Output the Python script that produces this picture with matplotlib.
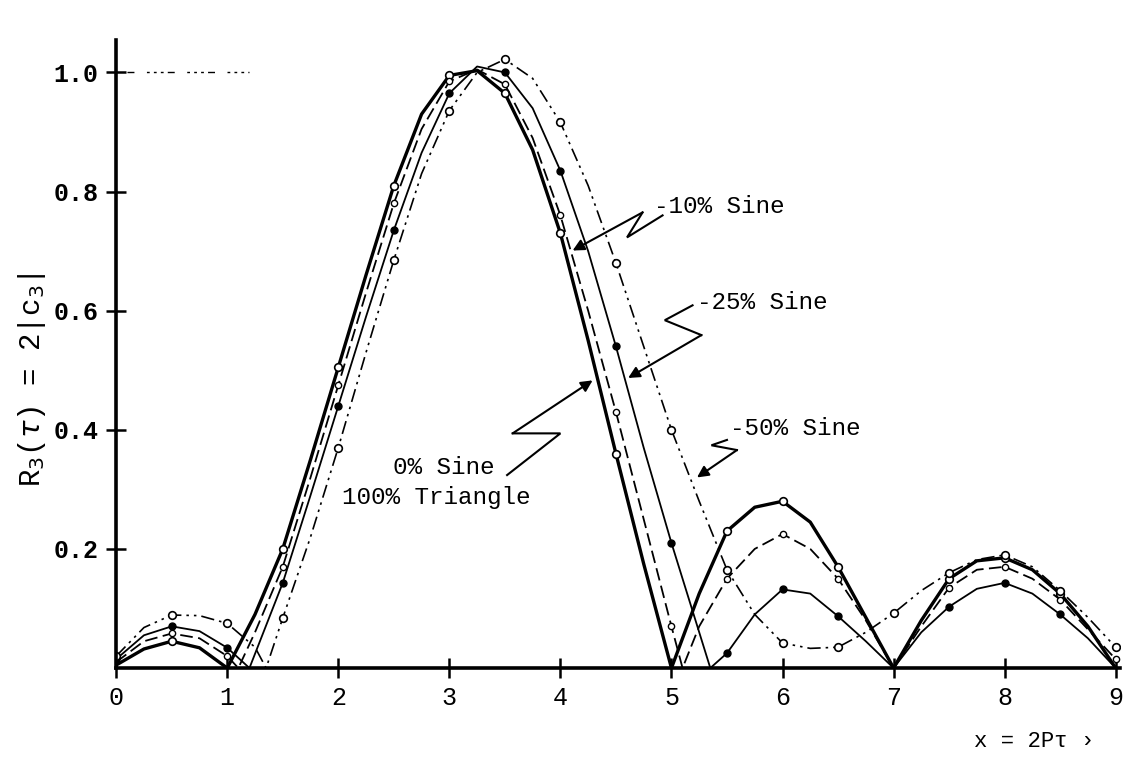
import matplotlib
matplotlib.use("Agg")
import matplotlib.pyplot as plt
import numpy as np

# values (x = 2P*tau)
x_0sine = [0, 0.25, 0.5, 0.75, 1.0, 1.25, 1.5, 1.75, 2.0, 2.25, 2.5, 2.75, 3.0, 3.25,
           3.5, 3.75, 4.0, 4.25, 4.5, 4.75, 5.0, 5.25, 5.5, 5.75, 6.0, 6.25, 6.5, 6.75,
           7.0, 7.25, 7.5, 7.75, 8.0, 8.25, 8.5, 8.75, 9.0]
r_0sine = [0.005, 0.032, 0.045, 0.034, 0.0, 0.09, 0.2, 0.35, 0.505, 0.66, 0.81, 0.93, 0.995, 1.003,
           0.965, 0.87, 0.73, 0.55, 0.36, 0.175, 0.0, 0.125, 0.23, 0.27, 0.28, 0.245, 0.17, 0.085,
           0.0, 0.08, 0.15, 0.18, 0.185, 0.165, 0.125, 0.07, 0.0]

x_10sine = [0, 0.25, 0.5, 0.75, 1.0, 1.1, 1.25, 1.5, 1.75, 2.0, 2.25, 2.5, 2.75, 3.0, 3.25,
            3.5, 3.75, 4.0, 4.25, 4.5, 4.75, 5.0, 5.1, 5.25, 5.5, 5.75, 6.0, 6.25, 6.5, 6.75,
            7.0, 7.25, 7.5, 7.75, 8.0, 8.25, 8.5, 8.75, 9.0]
r_10sine = [0.01, 0.045, 0.058, 0.05, 0.02, 0.0, 0.06, 0.17, 0.32, 0.475, 0.63, 0.78, 0.905, 0.985, 1.005,
            0.98, 0.89, 0.76, 0.6, 0.43, 0.25, 0.07, 0.0, 0.07, 0.15, 0.2, 0.225, 0.2, 0.15, 0.08,
            0.0, 0.07, 0.135, 0.165, 0.17, 0.15, 0.115, 0.065, 0.015]

x_25sine = [0, 0.25, 0.5, 0.75, 1.0, 1.2, 1.5, 1.75, 2.0, 2.25, 2.5, 2.75, 3.0, 3.25,
            3.5, 3.75, 4.0, 4.25, 4.5, 4.75, 5.0, 5.25, 5.35, 5.5, 5.75, 6.0, 6.25, 6.5, 6.75,
            7.0, 7.25, 7.5, 7.75, 8.0, 8.25, 8.5, 8.75, 9.0]
r_25sine = [0.015, 0.055, 0.07, 0.062, 0.034, 0.0, 0.143, 0.29, 0.44, 0.59, 0.735, 0.865, 0.965, 1.01,
            1.0, 0.94, 0.835, 0.7, 0.54, 0.37, 0.21, 0.06, 0.0, 0.025, 0.09, 0.132, 0.125, 0.087, 0.045,
            0.0, 0.06, 0.103, 0.133, 0.143, 0.125, 0.09, 0.05, 0.0]

x_50sine = [0, 0.25, 0.5, 0.75, 1.0, 1.25, 1.35, 1.5, 1.75, 2.0, 2.25, 2.5, 2.75, 3.0, 3.25,
            3.5, 3.75, 4.0, 4.25, 4.5, 4.75, 5.0, 5.25, 5.5, 5.75, 6.0, 6.25, 6.5, 6.75,
            7.0, 7.25, 7.5, 7.75, 8.0, 8.25, 8.5, 8.75, 9.0]
r_50sine = [0.02, 0.068, 0.089, 0.088, 0.075, 0.035, 0.0, 0.084, 0.22, 0.37, 0.53, 0.685, 0.83, 0.936, 1.0,
            1.022, 0.99, 0.916, 0.81, 0.68, 0.54, 0.40, 0.28, 0.165, 0.09, 0.042, 0.033, 0.035, 0.06,
            0.092, 0.13, 0.16, 0.182, 0.19, 0.17, 0.13, 0.085, 0.035]

x_ticks = [0, 1, 2, 3, 4, 5, 6, 7, 8, 9]
y_ticks = [0.2, 0.4, 0.6, 0.8, 1.0]
y_tick_labels = ["0.2", "0.4", "0.6", "0.8", "1.0"]

MONO = "Liberation Mono"
LABEL_SIZE = 17.5


def marker_mask(x, y):
    # the hand-plotted points sit on the half-unit grid
    x = np.asarray(x)
    y = np.asarray(y)
    return list(np.isclose(x * 2, np.round(x * 2)) & (y > 0.01))


def zigzag(ax, pts, tip):
    xs = [p[0] for p in pts]
    ys = [p[1] for p in pts]
    ax.plot(xs, ys, color="black", lw=1.5, solid_joinstyle="miter")
    ax.annotate("", xy=tip, xytext=pts[-1],
                arrowprops=dict(arrowstyle="-|>", color="black", lw=1.5,
                                mutation_scale=17, shrinkA=0, shrinkB=0))


fig = plt.figure(figsize=(11.28, 7.6), dpi=100)
ax = fig.add_axes([0.103, 0.121, 0.890, 0.826])

ax.plot(x_0sine, r_0sine, color="black", lw=2.4, marker="o", ms=5.5,
        mfc="white", mec="black", mew=1.2, markevery=marker_mask(x_0sine, r_0sine))
ax.plot(x_10sine, r_10sine, color="black", lw=1.3, ls=(0, (7, 3)), marker="o", ms=4.5,
        mfc="white", mec="black", mew=1.0, markevery=marker_mask(x_10sine, r_10sine))
ax.plot(x_25sine, r_25sine, color="black", lw=1.3, marker="o", ms=5,
        mfc="black", mec="black", markevery=marker_mask(x_25sine, r_25sine))
ax.plot(x_50sine, r_50sine, color="black", lw=1.2, ls=(0, (8, 3, 1.5, 3, 1.5, 3)), marker="o", ms=5.5,
        mfc="white", mec="black", mew=1.2, markevery=marker_mask(x_50sine, r_50sine))

# faint guide marks left on the original sheet at the 1.0 level
ax.hlines(1.0, 0.1, 1.2, color="black", lw=1.0, ls=(0, (5, 9, 2, 3, 2, 3, 2, 3)))

# curve labels with lightning-style leaders
ax.text(4.84, 0.775, "-10% Sine", fontsize=LABEL_SIZE, family=MONO, ha="left", va="center")
zigzag(ax, [(4.92, 0.760), (4.60, 0.723), (4.74, 0.765)], (4.11, 0.701))

ax.text(5.23, 0.614, "-25% Sine", fontsize=LABEL_SIZE, family=MONO, ha="left", va="center")
zigzag(ax, [(5.19, 0.609), (4.94, 0.584), (5.27, 0.559)], (4.61, 0.487))

ax.text(5.53, 0.403, "-50% Sine", fontsize=LABEL_SIZE, family=MONO, ha="left", va="center")
zigzag(ax, [(5.50, 0.383), (5.36, 0.374), (5.59, 0.366)], (5.23, 0.320))

ax.text(3.41, 0.337, "0% Sine", fontsize=LABEL_SIZE, family=MONO, ha="right", va="center")
ax.text(3.73, 0.287, "100% Triangle", fontsize=LABEL_SIZE, family=MONO, ha="right", va="center")
zigzag(ax, [(3.52, 0.324), (4.0, 0.394), (3.57, 0.394)], (4.29, 0.483))

ax.set_xlim(0, 9.04)
ax.set_ylim(0, 1.054)
ax.set_xticks(x_ticks)
ax.set_xticklabels([str(t) for t in x_ticks], family=MONO, fontsize=18)
ax.set_yticks(y_ticks)
ax.set_yticklabels(y_tick_labels, family=MONO, fontsize=18, fontweight="bold")
ax.tick_params(direction="inout", length=14, width=1.8, pad=6)

for side in ["top", "right"]:
    ax.spines[side].set_visible(False)
for side in ["left", "bottom"]:
    ax.spines[side].set_linewidth(2.6)

ax.set_ylabel(r"R$_3$($\tau$) = 2|c$_3$|", family=MONO, fontsize=21)
ax.yaxis.set_label_coords(-0.068, 0.46)
fig.text(0.97, 0.024, "x = 2P\u03c4 \u203a", family=MONO, fontsize=16, ha="right", va="center")

fig.savefig("out.png", dpi=100)
